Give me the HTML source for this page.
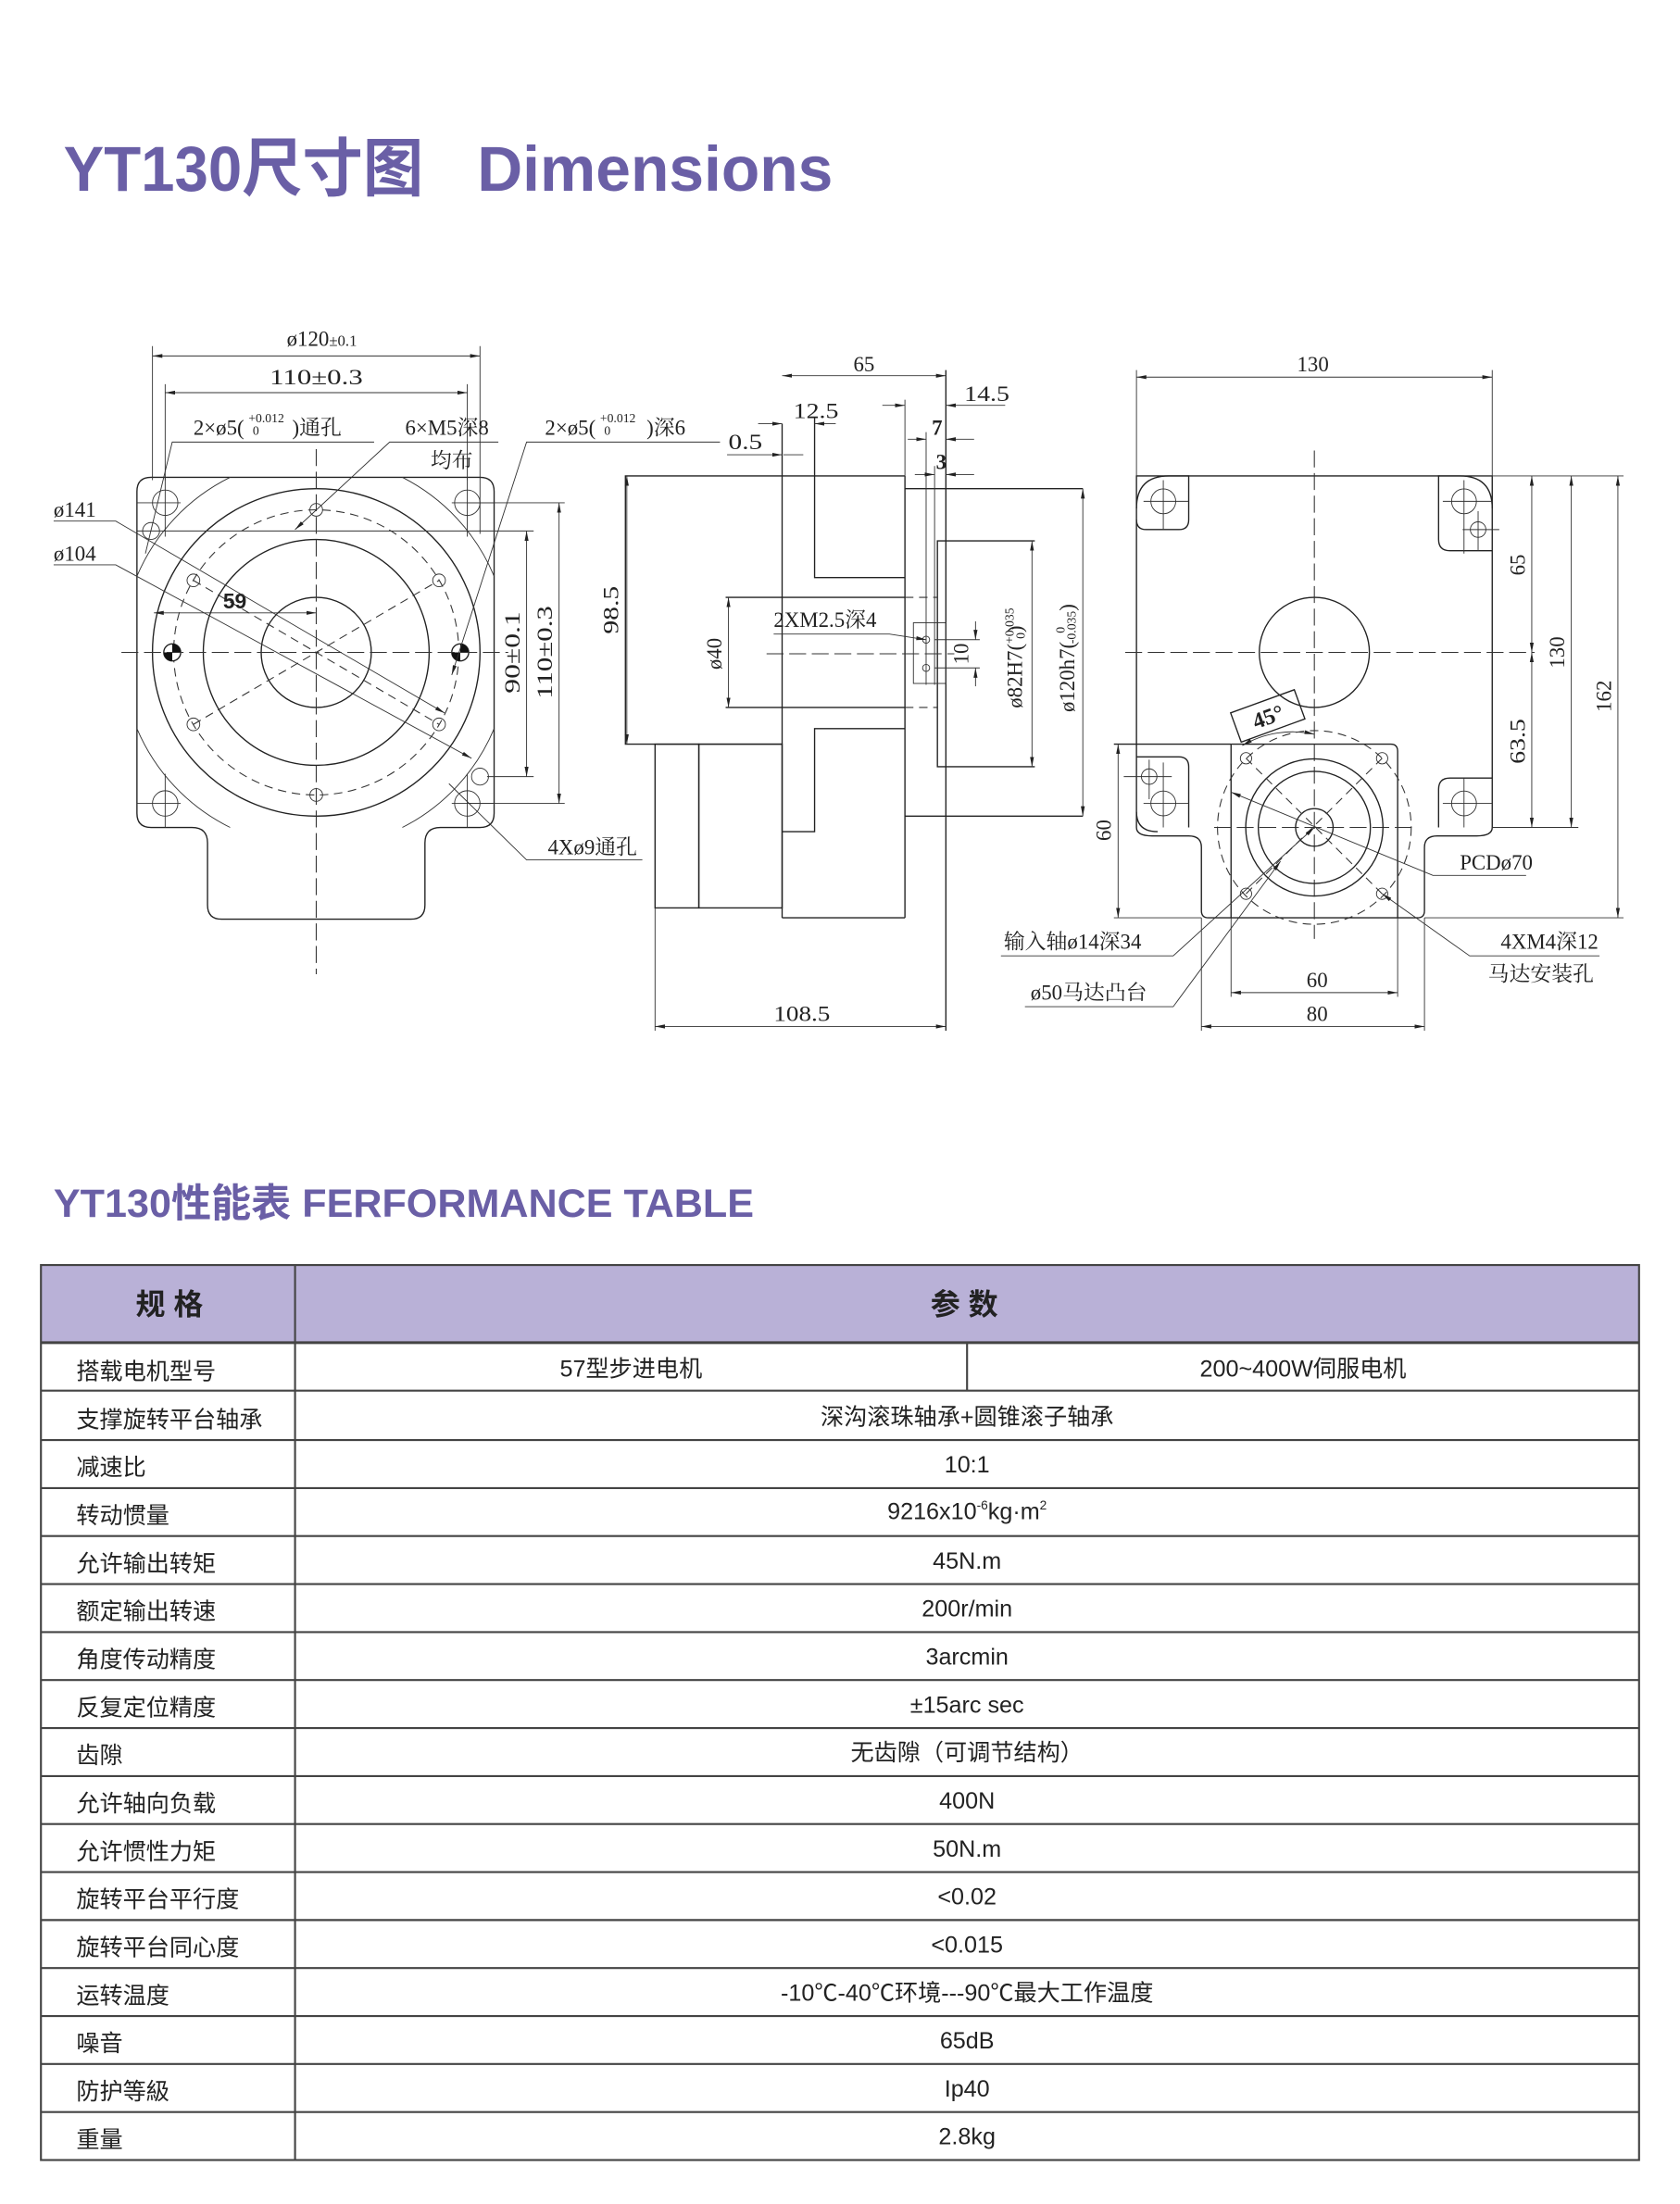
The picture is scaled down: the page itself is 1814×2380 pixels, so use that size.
<!DOCTYPE html>
<html><head><meta charset="utf-8"><style>
html,body{margin:0;padding:0;background:#fff;}
svg{display:block;}
.l{stroke:#222;stroke-width:0.9;fill:none;}
.t{stroke:#333;stroke-width:0.6;fill:none;}
.c{stroke:#333;stroke-width:0.7;fill:none;stroke-dasharray:12 4;}
.dd{stroke:#333;stroke-width:0.7;fill:none;stroke-dasharray:6 4;}
text{font-family:"Liberation Serif","Noto Serif CJK SC",serif;fill:#222;}
.s{font-size:15px;}
.tb text, text.tb{font-family:"Liberation Sans","Noto Sans CJK SC",sans-serif;font-size:16.5px;fill:#222;}
text.pt{font-family:"Liberation Sans","Noto Sans CJK SC",sans-serif;font-weight:bold;fill:#6a5fa6;}
</style></head><body>
<svg width="1814" height="2380" viewBox="0 0 1190 1561" xmlns="http://www.w3.org/2000/svg">
<defs>
<marker id="a" viewBox="0 0 10 10" refX="10" refY="5" markerWidth="7" markerHeight="7" orient="auto-start-reverse" markerUnits="userSpaceOnUse"><path d="M0,3 L10,5 L0,7 z" fill="#222"/></marker>
</defs>
<rect width="1190" height="1561" fill="#fff"/>
<!-- Titles -->
<text class="pt" x="45" y="135" font-size="45" textLength="255" lengthAdjust="spacingAndGlyphs">YT130尺寸图</text>
<text class="pt" x="338" y="135" font-size="45" textLength="252" lengthAdjust="spacingAndGlyphs">Dimensions</text>
<text class="pt" x="38" y="862" font-size="28" textLength="496" lengthAdjust="spacingAndGlyphs">YT130性能表 FERFORMANCE TABLE</text>

<!-- ============ LEFT VIEW ============ -->
<path class="l" d="M107,338 H340 Q350,338 350,348 V576 Q350,586 340,586 H312 Q301,586 301,597 V641 Q301,651 291,651 H157 Q147,651 147,641 V597 Q147,586 136,586 H107 Q97,586 97,576 V348 Q97,338 107,338 Z"/>
<line class="t" x1="97" y1="356" x2="128" y2="356"/><line class="t" x1="320" y1="356" x2="350" y2="356"/>
<line class="t" x1="97" y1="569" x2="128" y2="569"/><line class="t" x1="320" y1="569" x2="350" y2="569"/>
<line class="t" x1="117" y1="338" x2="117" y2="380"/><line class="t" x1="331" y1="338" x2="331" y2="380"/>
<line class="t" x1="117" y1="548" x2="117" y2="586"/><line class="t" x1="331" y1="548" x2="331" y2="586"/>
<path class="t" d="M163,338 A138,138 0 0 0 97,408"/>
<path class="t" d="M285,338 A138,138 0 0 1 350,408"/>
<path class="t" d="M97,516 A138,138 0 0 0 163,586"/>
<path class="t" d="M350,516 A138,138 0 0 1 285,586"/>
<circle class="l" cx="224" cy="462" r="116"/>
<circle class="dd" cx="224" cy="462" r="101"/>
<circle class="l" cx="224" cy="462" r="80"/>
<circle class="l" cx="224" cy="462" r="39"/>
<g class="t">
<circle cx="117" cy="356" r="9"/><circle cx="331" cy="356" r="9"/><circle cx="117" cy="569" r="9"/><circle cx="331" cy="569" r="9"/>
<circle cx="107" cy="376" r="6"/><circle cx="340" cy="550" r="6"/>
<circle cx="224" cy="361" r="4.5"/><circle cx="224" cy="563" r="4.5"/><circle cx="311" cy="411" r="4.5"/><circle cx="137" cy="411" r="4.5"/><circle cx="137" cy="513" r="4.5"/><circle cx="311" cy="513" r="4.5"/>
</g>
<circle cx="122" cy="462" r="6" fill="#fff" stroke="#222" stroke-width="0.9"/><path d="M116,462 A6,6 0 0 0 122,468 V462 Z M128,462 A6,6 0 0 0 122,456 V462Z" fill="#111"/>
<circle cx="326" cy="462" r="6" fill="#fff" stroke="#222" stroke-width="0.9"/><path d="M320,462 A6,6 0 0 0 326,468 V462 Z M332,462 A6,6 0 0 0 326,456 V462Z" fill="#111"/>
<line class="c" x1="86" y1="462" x2="360" y2="462"/>
<line class="c" x1="224" y1="318" x2="224" y2="690"/>
<line class="dd" x1="137" y1="513" x2="311" y2="411"/>
<line class="dd" x1="137" y1="411" x2="311" y2="513"/>
<line class="t" x1="108" y1="245" x2="108" y2="340"/><line class="t" x1="340" y1="245" x2="340" y2="378"/>
<line class="t" x1="108" y1="252" x2="340" y2="252" marker-start="url(#a)" marker-end="url(#a)"/>
<text class="s" x="228" y="245" text-anchor="middle">ø120<tspan font-size="11">±0.1</tspan></text>
<line class="t" x1="117" y1="272" x2="117" y2="340"/><line class="t" x1="331" y1="272" x2="331" y2="340"/>
<line class="t" x1="117" y1="278" x2="331" y2="278" marker-start="url(#a)" marker-end="url(#a)"/>
<text class="s" x="224" y="272" text-anchor="middle" font-size="16" textLength="66" lengthAdjust="spacingAndGlyphs">110±0.3</text>
<line class="t" x1="97" y1="376" x2="378" y2="376"/><line class="t" x1="345" y1="550" x2="378" y2="550"/>
<line class="t" x1="373" y1="376" x2="373" y2="550" marker-start="url(#a)" marker-end="url(#a)"/>
<line class="t" x1="331" y1="356" x2="400" y2="356"/><line class="t" x1="331" y1="569" x2="400" y2="569"/>
<line class="t" x1="396" y1="356" x2="396" y2="569" marker-start="url(#a)" marker-end="url(#a)"/>
<text class="s" transform="translate(368,462) rotate(-90)" text-anchor="middle" font-size="16" textLength="58" lengthAdjust="spacingAndGlyphs">90±0.1</text>
<text class="s" transform="translate(391,462) rotate(-90)" text-anchor="middle" font-size="16" textLength="66" lengthAdjust="spacingAndGlyphs">110±0.3</text>
<line class="t" x1="109" y1="434" x2="224" y2="434" marker-start="url(#a)" marker-end="url(#a)"/>
<text x="158" y="431" font-size="15" font-weight="bold" style="font-family:'Liberation Sans',sans-serif">59</text>
<text class="s" x="137" y="308">2×ø5(</text><text x="176" y="299" font-size="9">+0.012</text><text x="179" y="308" font-size="9">0</text><text class="s" x="207" y="308">)通孔</text>
<polyline class="t" points="265,313 122,313 103,392"/>
<text class="s" x="287" y="308">6×M5深8</text><text class="s" x="305" y="331">均布</text>
<polyline class="t" points="353,313 276,313 209,375" marker-end="url(#a)"/>
<text class="s" x="386" y="308">2×ø5(</text><text x="425" y="299" font-size="9">+0.012</text><text x="428" y="308" font-size="9">0</text><text class="s" x="458" y="308">)深6</text>
<polyline class="t" points="510,313 373,313 320,478" marker-end="url(#a)"/>
<text class="s" x="38" y="366">ø141</text><polyline class="t" points="38,369 82,369 315,505" marker-end="url(#a)"/>
<text class="s" x="38" y="397">ø104</text><polyline class="t" points="38,400 82,400 334,537" marker-end="url(#a)"/>
<text class="s" x="388" y="605">4Xø9通孔</text><polyline class="t" points="455,609 373,609 318,555"/>

<!-- ============ MIDDLE VIEW ============ -->
<g class="l">
<polyline points="641,337 443,337 443,527 554,527"/>
<line x1="554" y1="300" x2="554" y2="650"/>
<polyline points="577,296 577,409 641,409"/>
<polyline points="641,516 577,516 577,589 554,589"/>
<line x1="641" y1="337" x2="641" y2="650"/>
<line x1="554" y1="650" x2="641" y2="650"/>
<rect x="464" y="527" width="31" height="116"/>
<rect x="495" y="527" width="59" height="116"/>
<line x1="514" y1="423" x2="641" y2="423"/><line x1="514" y1="501" x2="641" y2="501"/>
<polyline points="641,346 767,346"/><polyline points="641,578 767,578"/>
<polyline points="733,383 664,383 664,543 733,543"/>
<line x1="670" y1="262" x2="670" y2="730"/>
</g>
<line class="dd" x1="641" y1="423" x2="664" y2="423"/><line class="dd" x1="641" y1="501" x2="664" y2="501"/>
<line class="t" x1="656" y1="306" x2="656" y2="485"/><line class="t" x1="662" y1="330" x2="662" y2="485"/>
<rect class="t" x="647" y="441" width="23" height="43"/>
<circle class="t" cx="656" cy="453" r="2.5" fill="#fff"/><circle class="t" cx="656" cy="473" r="2.5" fill="#fff"/>
<line class="c" x1="543" y1="463" x2="676" y2="463"/>
<line class="t" x1="554" y1="266" x2="670" y2="266" marker-start="url(#a)" marker-end="url(#a)"/>
<text class="s" x="612" y="263" text-anchor="middle">65</text>
<line class="t" x1="641" y1="283" x2="641" y2="340"/>
<line class="t" x1="625" y1="287" x2="641" y2="287" marker-end="url(#a)"/>
<line class="t" x1="712" y1="287" x2="670" y2="287" marker-end="url(#a)"/>
<text class="s" x="683" y="284" textLength="32" lengthAdjust="spacingAndGlyphs">14.5</text>
<line class="t" x1="537" y1="300" x2="554" y2="300" marker-end="url(#a)"/>
<line class="t" x1="592" y1="300" x2="577" y2="300" marker-end="url(#a)"/>
<text class="s" x="562" y="296" textLength="32" lengthAdjust="spacingAndGlyphs">12.5</text>
<line class="t" x1="515" y1="322" x2="554" y2="322" marker-end="url(#a)"/>
<line class="t" x1="569" y1="322" x2="555" y2="322"/>
<text class="s" x="516" y="318" textLength="24" lengthAdjust="spacingAndGlyphs">0.5</text>
<line class="t" x1="643" y1="311" x2="656" y2="311" marker-end="url(#a)"/>
<line class="t" x1="690" y1="311" x2="670" y2="311" marker-end="url(#a)"/>
<text x="660" y="308" font-size="15" font-weight="bold">7</text>
<line class="t" x1="648" y1="336" x2="662" y2="336" marker-end="url(#a)"/>
<line class="t" x1="690" y1="336" x2="670" y2="336" marker-end="url(#a)"/>
<text x="663" y="332" font-size="15" font-weight="bold">3</text>
<line class="t" x1="444" y1="337" x2="444" y2="527" marker-start="url(#a)" marker-end="url(#a)"/>
<text class="s" transform="translate(438,432) rotate(-90)" text-anchor="middle" textLength="34" lengthAdjust="spacingAndGlyphs">98.5</text>
<line class="t" x1="516" y1="423" x2="516" y2="501" marker-start="url(#a)" marker-end="url(#a)"/>
<text class="s" transform="translate(511,463) rotate(-90)" text-anchor="middle" font-size="13">ø40</text>
<text class="s" x="548" y="444">2XM2.5深4</text>
<polyline class="t" points="548,449 630,449 656,453" marker-end="url(#a)"/>
<line class="t" x1="662" y1="453" x2="694" y2="453"/><line class="t" x1="662" y1="473" x2="694" y2="473"/>
<line class="t" x1="691" y1="440" x2="691" y2="453" marker-end="url(#a)"/>
<line class="t" x1="691" y1="486" x2="691" y2="473" marker-end="url(#a)"/>
<text class="s" transform="translate(686,463) rotate(-90)" text-anchor="middle">10</text>
<line class="t" x1="731" y1="383" x2="731" y2="543" marker-start="url(#a)" marker-end="url(#a)"/>
<text class="s" transform="translate(724,466) rotate(-90)" text-anchor="middle">ø82H7(<tspan font-size="9" dy="-6">+0.035</tspan><tspan font-size="9" dx="-22" dy="8">0</tspan><tspan dy="-2">)</tspan></text>
<line class="t" x1="767" y1="346" x2="767" y2="578" marker-start="url(#a)" marker-end="url(#a)"/>
<text class="s" transform="translate(761,466) rotate(-90)" text-anchor="middle">ø120h7(<tspan font-size="9" dx="6" dy="-7">0</tspan><tspan font-size="9" dx="-12" dy="8">-0.035</tspan><tspan dy="-1">)</tspan></text>
<line class="t" x1="464" y1="643" x2="464" y2="730"/>
<line class="t" x1="464" y1="727" x2="670" y2="727" marker-start="url(#a)" marker-end="url(#a)"/>
<text class="s" x="568" y="723" text-anchor="middle" textLength="40" lengthAdjust="spacingAndGlyphs">108.5</text>

<!-- ============ RIGHT VIEW ============ -->
<g class="l">
<path d="M805,586 V337 H1057 V586"/>
<line x1="789" y1="527" x2="872" y2="527"/>
<path d="M872,527 H985 Q990,527 990,532 V650"/>
<path d="M872,527 V650"/>
<path d="M805,586 Q805,592 816,592 H842 Q851,592 851,600 V645 Q851,650 856,650 H1004 Q1009,650 1009,645 V600 Q1009,592 1018,592 H1046 Q1057,592 1057,586"/>
<path d="M805,360 Q805,337 828,337 H842 V368 Q842,375 835,375 H812 Q805,375 805,368"/>
<path d="M1057,360 Q1057,337 1034,337 H1019 V382 Q1019,390 1027,390 H1057"/>
<path d="M805,536 H835 Q842,536 842,543 V586"/>
<path d="M805,575 Q805,589 820,589"/>
<path d="M1057,551 H1027 Q1019,551 1019,559 V586"/>
</g>
<g class="t">
<circle cx="824" cy="355" r="8.8"/><circle cx="1037" cy="355" r="8.8"/><circle cx="1047" cy="375" r="5.5"/>
<circle cx="824" cy="569" r="8.8"/><circle cx="814" cy="550" r="5.5"/><circle cx="1037" cy="569" r="8.8"/>
<line x1="824" y1="340" x2="824" y2="375"/><line x1="810" y1="355" x2="842" y2="355"/>
<line x1="1037" y1="340" x2="1037" y2="392"/><line x1="1022" y1="355" x2="1057" y2="355"/><line x1="1036" y1="375" x2="1062" y2="375"/><line x1="1047" y1="362" x2="1047" y2="390"/>
<line x1="824" y1="540" x2="824" y2="586"/><line x1="810" y1="569" x2="842" y2="569"/><line x1="796" y1="550" x2="830" y2="550"/><line x1="814" y1="538" x2="814" y2="566"/>
<line x1="1037" y1="551" x2="1037" y2="586"/><line x1="1022" y1="569" x2="1057" y2="569"/>
</g>
<circle class="l" cx="931" cy="462" r="39"/>
<line class="c" x1="931" y1="319" x2="931" y2="665"/>
<line class="c" x1="797" y1="462" x2="1087" y2="462"/>
<line class="c" x1="860" y1="586" x2="1000" y2="586"/>
<circle class="dd" cx="931" cy="586" r="68.6"/>
<circle class="l" cx="931" cy="586" r="48.6"/>
<circle class="l" cx="931" cy="586" r="39.7"/>
<circle class="l" cx="931" cy="586" r="13.3"/>
<line class="dd" x1="882.6" y1="537" x2="979" y2="633"/><line class="dd" x1="979" y1="537" x2="882.6" y2="633"/>
<g class="t"><circle cx="882.6" cy="537" r="4"/><circle cx="979" cy="537" r="4"/><circle cx="882.6" cy="633" r="4"/><circle cx="979" cy="633" r="4"/></g>
<g transform="translate(898,507) rotate(-20)"><rect x="-24" y="-11" width="48" height="22" class="l" fill="#fff"/><text x="0" y="6" text-anchor="middle" font-size="16" font-weight="bold">45°</text></g>
<path class="t" d="M880,528 A70,70 0 0 1 931,520" marker-start="url(#a)" marker-end="url(#a)"/>
<line class="t" x1="805" y1="262" x2="805" y2="337"/><line class="t" x1="1057" y1="262" x2="1057" y2="337"/>
<line class="t" x1="805" y1="267" x2="1057" y2="267" marker-start="url(#a)" marker-end="url(#a)"/>
<text class="s" x="930" y="263" text-anchor="middle">130</text>
<line class="t" x1="1020" y1="337" x2="1150" y2="337"/><line class="t" x1="1057" y1="586" x2="1118" y2="586"/><line class="t" x1="1009" y1="650" x2="1150" y2="650"/>
<line class="t" x1="1085" y1="337" x2="1085" y2="462" marker-start="url(#a)" marker-end="url(#a)"/>
<line class="t" x1="1085" y1="462" x2="1085" y2="586" marker-start="url(#a)" marker-end="url(#a)"/>
<line class="t" x1="1113" y1="337" x2="1113" y2="586" marker-start="url(#a)" marker-end="url(#a)"/>
<line class="t" x1="1146" y1="337" x2="1146" y2="650" marker-start="url(#a)" marker-end="url(#a)"/>
<text class="s" transform="translate(1080,400) rotate(-90)" text-anchor="middle">65</text>
<text class="s" transform="translate(1108,462) rotate(-90)" text-anchor="middle">130</text>
<text class="s" transform="translate(1080,525) rotate(-90)" text-anchor="middle" textLength="32" lengthAdjust="spacingAndGlyphs">63.5</text>
<text class="s" transform="translate(1141,493) rotate(-90)" text-anchor="middle">162</text>
<line class="t" x1="789" y1="650" x2="851" y2="650"/>
<line class="t" x1="792" y1="527" x2="792" y2="650" marker-start="url(#a)" marker-end="url(#a)"/>
<text class="s" transform="translate(787,588) rotate(-90)" text-anchor="middle">60</text>
<line class="t" x1="872" y1="650" x2="872" y2="706"/><line class="t" x1="990" y1="650" x2="990" y2="706"/>
<line class="t" x1="851" y1="650" x2="851" y2="730"/><line class="t" x1="1009" y1="650" x2="1009" y2="730"/>
<line class="t" x1="872" y1="703" x2="990" y2="703" marker-start="url(#a)" marker-end="url(#a)"/>
<line class="t" x1="851" y1="727" x2="1009" y2="727" marker-start="url(#a)" marker-end="url(#a)"/>
<text class="s" x="933" y="699" text-anchor="middle">60</text>
<text class="s" x="933" y="723" text-anchor="middle">80</text>
<text class="s" x="1034" y="616" font-size="14">PCDø70</text>
<polyline class="t" points="1081,620 1015,620 872,561" marker-end="url(#a)"/>
<text class="s" x="1063" y="672">4XM4深12</text><text class="s" x="1054" y="695">马达安装孔</text>
<polyline class="t" points="1133,677 1041,677 979,633" marker-end="url(#a)"/>
<text class="s" x="711" y="672">输入轴ø14深34</text>
<polyline class="t" points="709,677 831,677 931,586" marker-end="url(#a)"/>
<text class="s" x="730" y="708">ø50马达凸台</text>
<polyline class="t" points="726,713 831,713 907,610" marker-end="url(#a)"/>

<!-- ============ TABLE ============ -->
<rect x="29" y="896" width="1132" height="55" fill="#b9b1d7"/>
<g stroke="#444" stroke-width="1.4" fill="none">
<rect x="29" y="896" width="1132" height="634"/>
<line x1="209" y1="896" x2="209" y2="1530"/>
<line x1="685" y1="951" x2="685" y2="985"/>
<line x1="29" y1="951" x2="1161" y2="951" stroke-width="2"/>
<line x1="29" y1="985" x2="1161" y2="985"/>
<line x1="29" y1="1020" x2="1161" y2="1020"/>
<line x1="29" y1="1054" x2="1161" y2="1054"/>
<line x1="29" y1="1088" x2="1161" y2="1088"/>
<line x1="29" y1="1122" x2="1161" y2="1122"/>
<line x1="29" y1="1156" x2="1161" y2="1156"/>
<line x1="29" y1="1190" x2="1161" y2="1190"/>
<line x1="29" y1="1224" x2="1161" y2="1224"/>
<line x1="29" y1="1258" x2="1161" y2="1258"/>
<line x1="29" y1="1292" x2="1161" y2="1292"/>
<line x1="29" y1="1326" x2="1161" y2="1326"/>
<line x1="29" y1="1360" x2="1161" y2="1360"/>
<line x1="29" y1="1394" x2="1161" y2="1394"/>
<line x1="29" y1="1428" x2="1161" y2="1428"/>
<line x1="29" y1="1462" x2="1161" y2="1462"/>
<line x1="29" y1="1496" x2="1161" y2="1496"/>
</g>
<text class="tb" x="120" y="931" text-anchor="middle" style="font-size:21px;font-weight:bold">规 格</text>
<text class="tb" x="683" y="931" text-anchor="middle" style="font-size:21px;font-weight:bold">参 数</text>
<g class="tb">
<text x="54" y="977">搭载电机型号</text><text x="447" y="975" text-anchor="middle">57型步进电机</text><text x="923" y="975" text-anchor="middle">200~400W伺服电机</text>
<text x="54" y="1011">支撑旋转平台轴承</text><text x="685" y="1009" text-anchor="middle">深沟滚珠轴承+圆锥滚子轴承</text>
<text x="54" y="1045">减速比</text><text x="685" y="1043" text-anchor="middle">10:1</text>
<text x="54" y="1079">转动惯量</text><text x="685" y="1076" text-anchor="middle">9216x10<tspan font-size="9" dy="-7">-6</tspan><tspan dy="7">kg·m</tspan><tspan font-size="9" dy="-7">2</tspan></text>
<text x="54" y="1113">允许输出转矩</text><text x="685" y="1111" text-anchor="middle">45N.m</text>
<text x="54" y="1147">额定输出转速</text><text x="685" y="1145" text-anchor="middle">200r/min</text>
<text x="54" y="1181">角度传动精度</text><text x="685" y="1179" text-anchor="middle">3arcmin</text>
<text x="54" y="1215">反复定位精度</text><text x="685" y="1213" text-anchor="middle">±15arc sec</text>
<text x="54" y="1249">齿隙</text><text x="685" y="1247" text-anchor="middle">无齿隙（可调节结构）</text>
<text x="54" y="1283">允许轴向负载</text><text x="685" y="1281" text-anchor="middle">400N</text>
<text x="54" y="1317">允许惯性力矩</text><text x="685" y="1315" text-anchor="middle">50N.m</text>
<text x="54" y="1351">旋转平台平行度</text><text x="685" y="1349" text-anchor="middle">&lt;0.02</text>
<text x="54" y="1385">旋转平台同心度</text><text x="685" y="1383" text-anchor="middle">&lt;0.015</text>
<text x="54" y="1419">运转温度</text><text x="685" y="1417" text-anchor="middle">-10℃-40℃环境---90℃最大工作温度</text>
<text x="54" y="1453">噪音</text><text x="685" y="1451" text-anchor="middle">65dB</text>
<text x="54" y="1487">防护等級</text><text x="685" y="1485" text-anchor="middle">Ip40</text>
<text x="54" y="1521">重量</text><text x="685" y="1519" text-anchor="middle">2.8kg</text>
</g>
</svg>
</body></html>
